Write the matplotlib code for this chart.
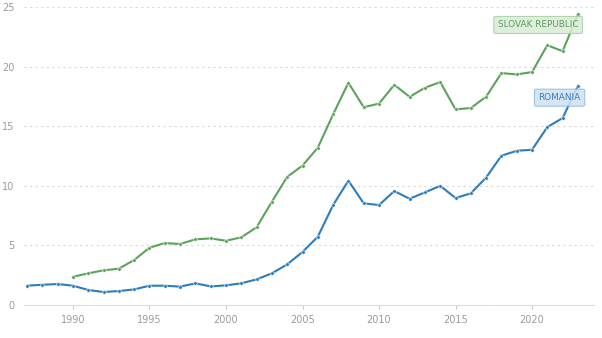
import matplotlib
matplotlib.use("Agg")
import matplotlib.pyplot as plt

# yearly series
ro_years = list(range(1987, 2024))
ro_values = [1.62, 1.70, 1.76, 1.62, 1.26, 1.09, 1.17, 1.31, 1.62, 1.62,
             1.54, 1.82, 1.56, 1.65, 1.82, 2.15, 2.66, 3.41, 4.45, 5.73,
             8.39, 10.43, 8.53, 8.39, 9.56, 8.92, 9.45, 10.0, 8.98, 9.37,
             10.7, 12.53, 12.94, 13.03, 14.93, 15.69, 18.4]

sk_years = list(range(1990, 2024))
sk_values = [2.37, 2.66, 2.91, 3.05, 3.78, 4.81, 5.20, 5.12, 5.51, 5.59,
             5.39, 5.68, 6.52, 8.67, 10.76, 11.7, 13.2, 16.0, 18.65, 16.6,
             16.9, 18.48, 17.47, 18.23, 18.71, 16.42, 16.53, 17.48, 19.46, 19.35,
             19.55, 21.8, 21.3, 24.4]

x_ticks = [1990, 1995, 2000, 2005, 2010, 2015, 2020]
y_ticks = [0, 5, 10, 15, 20, 25]

blue = "#2f7cbb"
green = "#5ba35b"

fig = plt.figure(figsize=(6.02, 3.38), dpi=100)
ax = fig.add_axes([0.0399, 0.0976, 0.9468, 0.8814])

for years, vals, col in [(ro_years, ro_values, blue), (sk_years, sk_values, green)]:
    ax.plot(years, vals, color=col, linewidth=1.5, zorder=3,
            marker="o", markersize=2.6, markerfacecolor=col,
            markeredgecolor="white", markeredgewidth=0.4)

ax.set_xlim(1986.8, 2024.05)
ax.set_ylim(0, 25)
ax.set_xticks(x_ticks)
ax.set_yticks(y_ticks)

for s in ["top", "right", "left"]:
    ax.spines[s].set_visible(False)
ax.spines["bottom"].set_color("#dddddd")
ax.spines["bottom"].set_linewidth(0.8)

ax.yaxis.grid(True, linestyle=(0, (2, 3)), color="#d8d8d8", linewidth=0.8)
ax.set_axisbelow(True)
ax.tick_params(axis="y", length=0, pad=7, labelsize=7, labelcolor="#9a9a9a")
ax.tick_params(axis="x", length=3, color="#cccccc", pad=4, labelsize=7,
               labelcolor="#9a9a9a")

ax.text(2020.4, 23.5, "SLOVAK REPUBLIC", fontsize=6.4, color="#5e9a5e",
        ha="center", va="center", zorder=4,
        bbox=dict(boxstyle="round,pad=0.45,rounding_size=0.2",
                  facecolor="#d9ebd8", edgecolor="#a8d0a5", alpha=0.85, linewidth=0.8))
ax.text(2021.8, 17.4, "ROMANIA", fontsize=6.4, color="#3a7db5",
        ha="center", va="center", zorder=4,
        bbox=dict(boxstyle="round,pad=0.45,rounding_size=0.2",
                  facecolor="#cfe1f3", edgecolor="#8cbbe3", alpha=0.85, linewidth=0.8))

fig.savefig("out.png", dpi=100)
